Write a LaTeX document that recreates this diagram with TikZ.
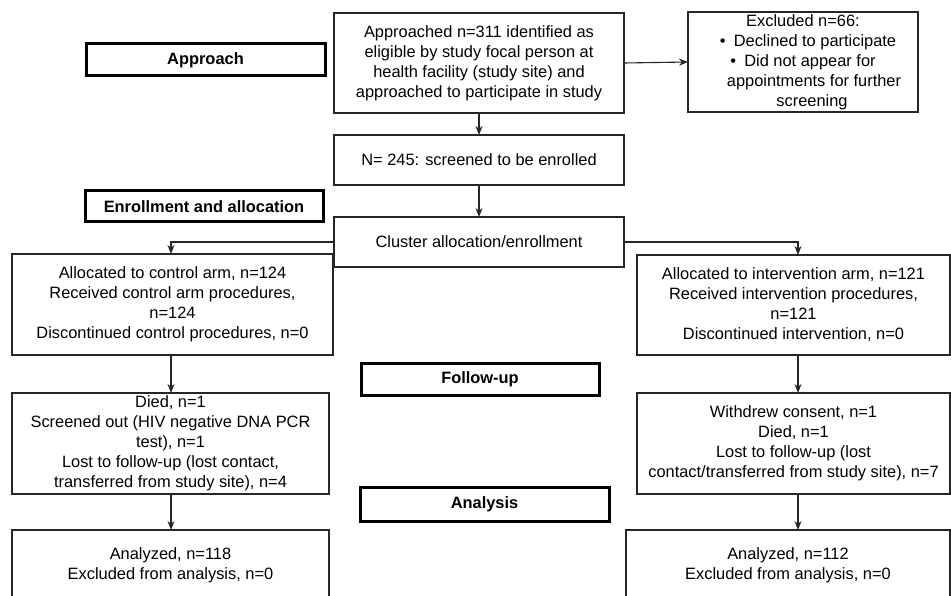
\documentclass[tikz,border=0pt]{standalone}
\usepackage{fontspec}
\setmainfont{Liberation Sans}
\usetikzlibrary{arrows.meta}
\begin{document}
\begin{tikzpicture}[x=1pt,y=-1pt,
  every node/.style={inner sep=0pt, outer sep=0pt, font=\fontsize{16.4}{20}\selectfont, align=center},
  box/.style={draw=black!85, line width=1.3pt, rectangle},
  lbl/.style={draw=black, line width=3pt, rectangle, font=\fontsize{16.4}{20}\selectfont\bfseries},
  arr/.style={-{Stealth[length=9pt,width=7pt]}, line width=1.1pt, black!85}]
\useasboundingbox (0,0) rectangle (951,596);
\clip (0,0) rectangle (951,596);
\fill[white] (0,0) rectangle (951,596);

\node[lbl, minimum width=239, minimum height=32] (lapp) at (205.5,60) {Approach};
\node[lbl, minimum width=238, minimum height=31] (lenr) at (204,206.5) {Enrollment and allocation};
\node[lbl, minimum width=238, minimum height=32] (lfu) at (480,379) {Follow-up};
\node[lbl, minimum width=249, minimum height=34] (lan) at (484.5,504) {Analysis};

\node[box, minimum width=290, minimum height=100] (app) at (479,63)
  {Approached n=311 identified as\\ eligible by study focal person at\\ health facility (study site) and\\ approached to participate in study};
\node[box, minimum width=230, minimum height=100] (exc) at (803,62)
  {Excluded n=66:\\ \hspace*{10pt}\textbullet\enspace Declined to participate\\ \textbullet\enspace Did not appear for\\ \hspace*{22pt}appointments for further\\ \hspace*{18pt}screening};
\node[box, minimum width=290, minimum height=50] (scr) at (479,160) {N= 245: screened to be enrolled};
\node[box, minimum width=290, minimum height=50] (clu) at (479,242) {Cluster allocation/enrollment};

\node[box, minimum width=321, minimum height=101] (ctl) at (172.5,304.5)
  {Allocated to control arm, n=124\\ Received control arm procedures,\\ n=124\\ Discontinued control procedures, n=0};
\node[box, minimum width=313, minimum height=100] (int) at (793.5,305)
  {Allocated to intervention arm, n=121\\ Received intervention procedures,\\ n=121\\ Discontinued intervention, n=0};

\node[box, minimum width=317, minimum height=101] (fuc) at (170.5,443.5)
  {Died, n=1\\ Screened out (HIV negative DNA PCR\\ test), n=1\\ Lost to follow-up (lost contact,\\ transferred from study site), n=4};
\node[box, minimum width=313, minimum height=101] (fui) at (793.5,443.5)
  {Withdrew consent, n=1\\ Died, n=1\\ Lost to follow-up (lost\\ contact/transferred from study site), n=7};

\node[box, minimum width=317, minimum height=71] (anc) at (170.5,565.5)
  {Analyzed, n=118\\ Excluded from analysis, n=0};
\node[box, minimum width=324, minimum height=71] (ani) at (788,565.5)
  {Analyzed, n=112\\ Excluded from analysis, n=0};

\coordinate (ax) at (171,0);
\coordinate (bx) at (798,0);

\draw[arr] (app.east) -- (exc.west);
\draw[arr] (app.south) -- (scr.north);
\draw[arr] (scr.south) -- (clu.north);
\draw[arr] (clu.west) -| (ax |- ctl.north);
\draw[arr] (clu.east) -| (bx |- int.north);
\draw[arr] (ax |- ctl.south) -- (ax |- fuc.north);
\draw[arr] (ax |- fuc.south) -- (ax |- anc.north);
\draw[arr] (bx |- int.south) -- (bx |- fui.north);
\draw[arr] (bx |- fui.south) -- (bx |- ani.north);
\end{tikzpicture}
\end{document}
